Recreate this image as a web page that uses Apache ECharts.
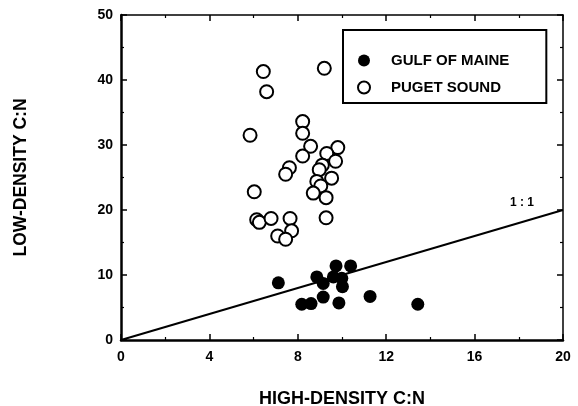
<!DOCTYPE html>
<html>
<head>
<meta charset="utf-8">
<script src="https://cdn.jsdelivr.net/npm/echarts@6/dist/echarts.min.js"></script>
<style>
  html, body { margin: 0; padding: 0; background: #fff; }
  #chart { width: 578px; height: 406px; }
</style>
</head>
<body>
<div id="chart"></div>
<script>
var xTicks = [0, 4, 8, 12, 16, 20]
var yTicks = [0, 10, 20, 30, 40, 50]

// Gulf of Maine  [high-density C:N, low-density C:N]
var gulfOfMaine = [
  [7.12, 8.8], [8.18, 5.5], [8.60, 5.6], [9.15, 6.6], [8.86, 9.7],
  [9.15, 8.7], [9.73, 11.4], [9.61, 9.7], [9.99, 9.5], [10.02, 8.2],
  [9.86, 5.7], [10.39, 11.4], [11.27, 6.7], [13.43, 5.5]
]

// Puget Sound
var pugetSound = [
  [6.44, 41.3], [9.20, 41.8], [6.59, 38.2], [5.84, 31.5], [8.22, 33.6],
  [8.22, 31.8], [8.58, 29.8], [9.81, 29.6], [8.22, 28.3], [9.31, 28.7],
  [9.71, 27.5], [7.62, 26.5], [9.11, 26.9], [7.45, 25.5], [8.97, 26.2],
  [9.53, 24.9], [8.86, 24.4], [9.04, 23.7], [8.70, 22.6], [9.28, 21.9],
  [6.03, 22.8], [6.14, 18.5], [6.26, 18.1], [6.79, 18.7], [7.65, 18.7],
  [7.72, 16.8], [7.09, 16.0], [7.45, 15.5], [9.28, 18.8]
]

var oneToOne = [[0, 0], [20, 20]]

var font = 'Liberation Sans, Arial, sans-serif'
var chart = echarts.init(document.getElementById('chart'))

function axisBase (min, max, interval) {
  return {
    min: min,
    max: max,
    interval: interval,
    splitLine: {show: false},
    axisLine: {show: true, onZero: false, lineStyle: {color: '#000', width: 2.5}},
    axisTick: {show: true, inside: true, length: 6, lineStyle: {color: '#000', width: 1.5}},
    minorTick: {show: true, splitNumber: 2, length: 3, lineStyle: {color: '#000', width: 1.2}},
    axisLabel: {show: true, color: '#000', fontFamily: font, fontWeight: 'bold', fontSize: 14}
  }
}

var xBottom = axisBase(xTicks[0], xTicks[xTicks.length - 1], 4)
xBottom.type = 'value'
xBottom.position = 'bottom'
xBottom.name = 'HIGH-DENSITY C:N'
xBottom.nameLocation = 'middle'
xBottom.nameGap = 50
xBottom.nameTextStyle = {color: '#000', fontFamily: font, fontWeight: 'bold', fontSize: 18}
xBottom.axisLabel.margin = 10

var xTop = axisBase(xTicks[0], xTicks[xTicks.length - 1], 4)
xTop.type = 'value'
xTop.position = 'top'
xTop.axisLine.lineStyle.width = 1.5
xTop.axisLabel = {show: false}

var yLeft = axisBase(yTicks[0], yTicks[yTicks.length - 1], 10)
yLeft.type = 'value'
yLeft.position = 'left'
yLeft.name = 'LOW-DENSITY C:N'
yLeft.nameLocation = 'middle'
yLeft.nameGap = 91
yLeft.nameTextStyle = {color: '#000', fontFamily: font, fontWeight: 'bold', fontSize: 17.5}
yLeft.axisLabel.margin = 8

var yRight = axisBase(yTicks[0], yTicks[yTicks.length - 1], 10)
yRight.type = 'value'
yRight.position = 'right'
yRight.axisLine.lineStyle.width = 1.5
yRight.axisLabel = {show: false}

var option = {
  animation: false,
  backgroundColor: '#fff',
  grid: {left: 121, right: 15, top: 15, bottom: 66, containLabel: false, outerBoundsMode: 'none'},
  xAxis: [xBottom, xTop],
  yAxis: [yLeft, yRight],
  legend: {
    data: ['GULF OF MAINE', 'PUGET SOUND'],
    orient: 'vertical',
    left: 343,
    top: 30,
    width: 204,
    padding: [23, 37, 8, 14],
    itemWidth: 12,
    itemHeight: 12,
    itemGap: 12,
    borderColor: '#000',
    borderWidth: 2,
    textStyle: {color: '#000', fontFamily: font, fontWeight: 'bold', fontSize: 15, padding: [0, 0, 0, 16]}
  },
  series: [
    {
      type: 'line',
      name: '1:1',
      data: oneToOne,
      showSymbol: false,
      symbol: 'none',
      lineStyle: {color: '#000', width: 2},
      endLabel: {
        show: true,
        formatter: '1 : 1',
        color: '#000',
        fontFamily: font,
        fontWeight: 'bold',
        fontSize: 12,
        offset: [-61, -7]
      },
      z: 1
    },
    {
      type: 'scatter',
      name: 'GULF OF MAINE',
      data: gulfOfMaine,
      symbol: 'circle',
      symbolSize: 13,
      itemStyle: {color: '#000', opacity: 1},
      z: 3
    },
    {
      type: 'scatter',
      name: 'PUGET SOUND',
      data: pugetSound,
      symbol: 'circle',
      symbolSize: 13,
      itemStyle: {color: '#fff', borderColor: '#000', borderWidth: 2, opacity: 1},
      z: 2
    }
  ]
}

chart.setOption(option)
</script>
</body>
</html>
